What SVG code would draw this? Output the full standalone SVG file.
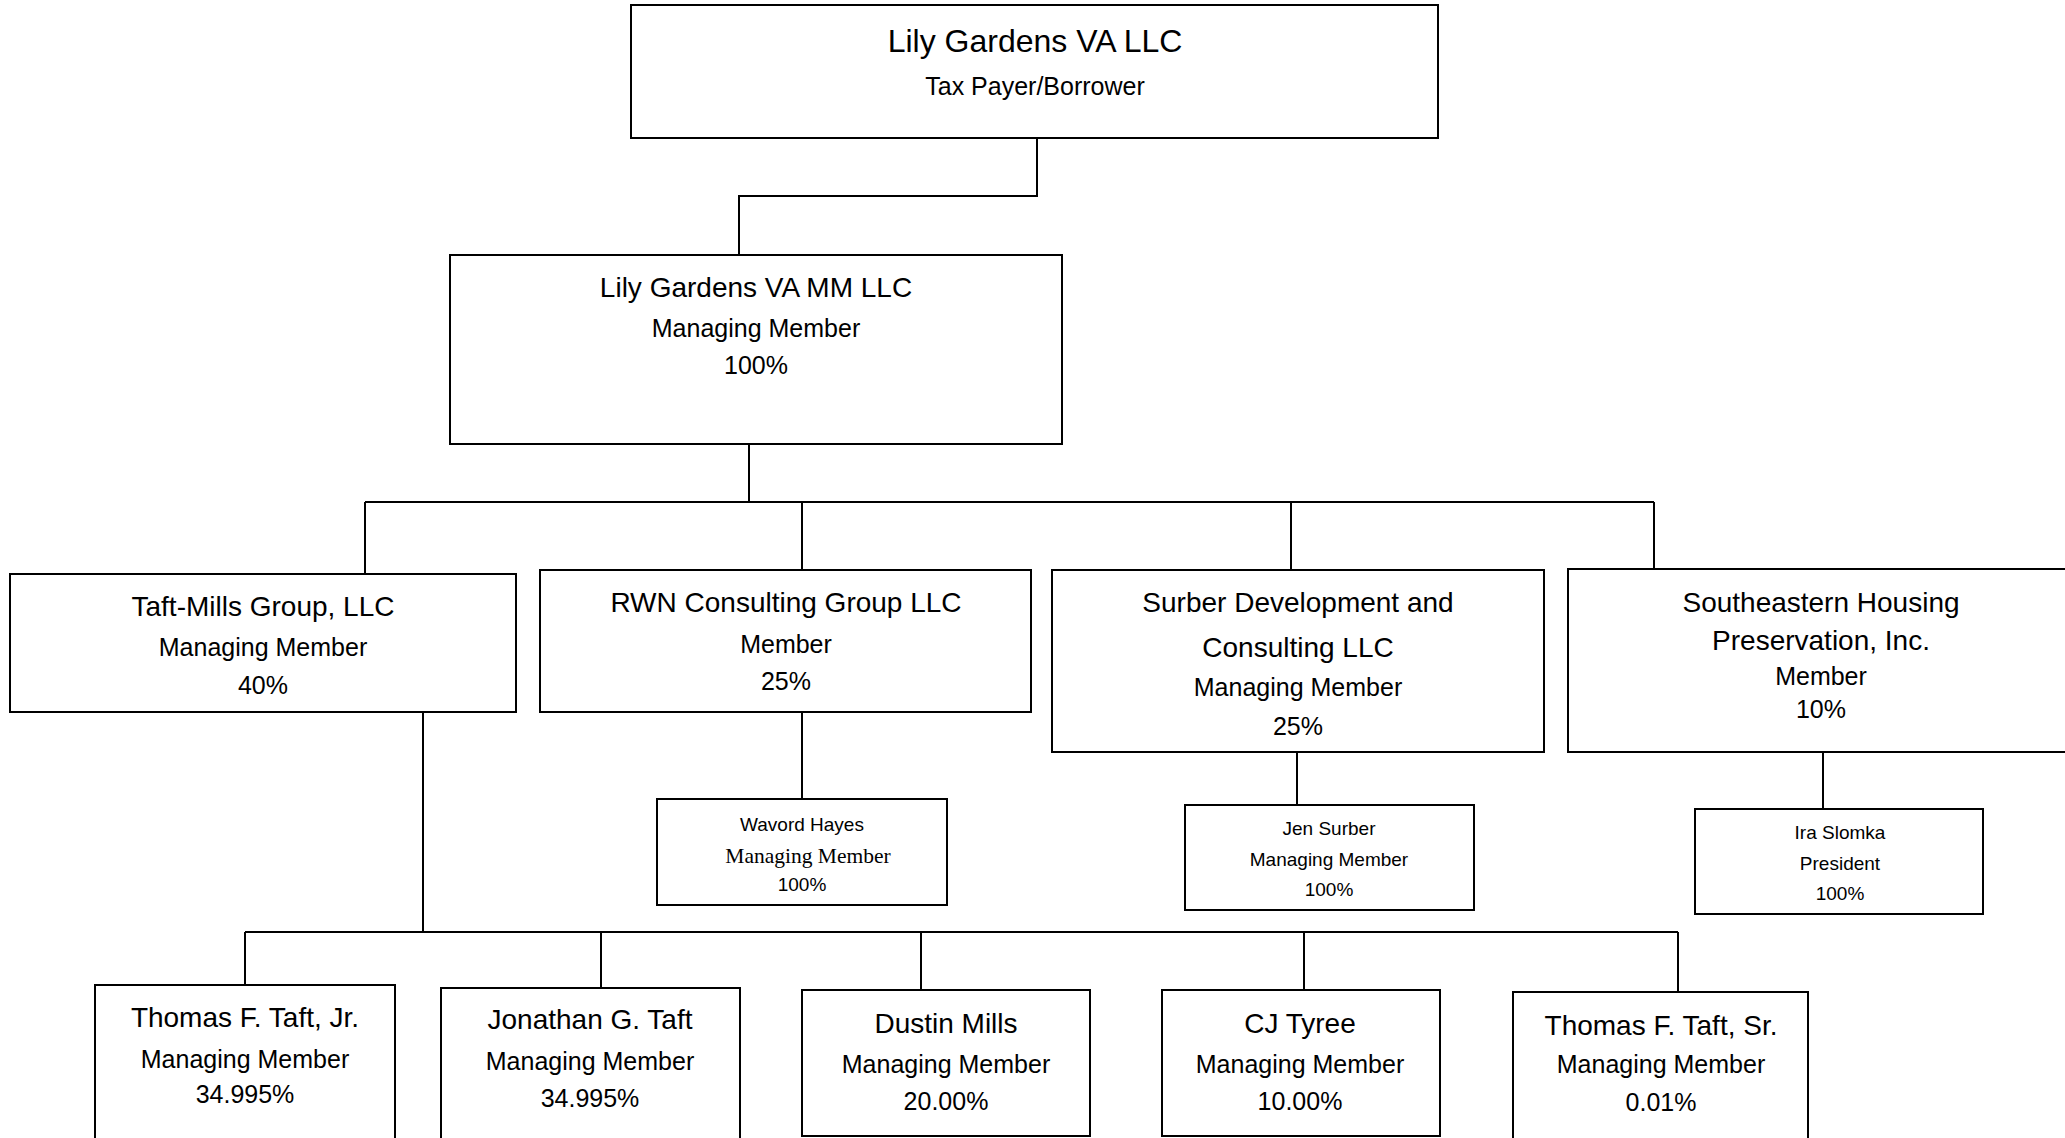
<svg xmlns="http://www.w3.org/2000/svg" width="2065" height="1138" viewBox="0 0 2065 1138">
<style>
.box{fill:#fff;stroke:#000;stroke-width:2}
.ln{fill:none;stroke:#000;stroke-width:2}
text{font-family:"Liberation Sans",Arial,sans-serif;fill:#000;text-anchor:middle}
.t1{font-size:32px}
.t{font-size:28px}
.s{font-size:25px}
.x{font-size:19px}
.xs{font-family:"Liberation Serif","Times New Roman",serif;font-size:21.5px}
</style>
<rect width="2065" height="1138" fill="#fff"/>
<g id="connectors">
<path class="ln" d="M1037 138V196H739V255"/>
<path class="ln" d="M749 444V502M365 502H1654M365 502V574M802 502V570M1291 502V570M1654 502V569"/>
<path class="ln" d="M802 712V799"/>
<path class="ln" d="M1297 752V805"/>
<path class="ln" d="M1823 752V809"/>
<path class="ln" d="M423 712V932M245 932H1678M245 932V985M601 932V988M921 932V990M1304 932V990M1678 932V992"/>
</g>
<g id="n-lily-gardens-va-llc">
<rect class="box" x="631" y="5" width="807" height="133"/>
<text class="t1" x="1035" y="52">Lily Gardens VA LLC</text>
<text class="s" x="1035" y="95">Tax Payer/Borrower</text>
</g>
<g id="n-lily-gardens-va-mm-llc">
<rect class="box" x="450" y="255" width="612" height="189"/>
<text class="t" x="756" y="297">Lily Gardens VA MM LLC</text>
<text class="s" x="756" y="337">Managing Member</text>
<text class="s" x="756" y="374">100%</text>
</g>
<g id="n-taft-mills">
<rect class="box" x="10" y="574" width="506" height="138"/>
<text class="t" x="263" y="616">Taft-Mills Group, LLC</text>
<text class="s" x="263" y="656">Managing Member</text>
<text class="s" x="263" y="694">40%</text>
</g>
<g id="n-rwn">
<rect class="box" x="540" y="570" width="491" height="142"/>
<text class="t" x="786" y="612">RWN Consulting Group LLC</text>
<text class="s" x="786" y="653">Member</text>
<text class="s" x="786" y="690">25%</text>
</g>
<g id="n-surber">
<rect class="box" x="1052" y="570" width="492" height="182"/>
<text class="t" x="1298" y="612">Surber Development and</text>
<text class="t" x="1298" y="657">Consulting LLC</text>
<text class="s" x="1298" y="696">Managing Member</text>
<text class="s" x="1298" y="735">25%</text>
</g>
<g id="n-southeastern">
<rect class="box" x="1568" y="569" width="510" height="183"/>
<text class="t" x="1821" y="612">Southeastern Housing</text>
<text class="t" x="1821" y="650">Preservation, Inc.</text>
<text class="s" x="1821" y="685">Member</text>
<text class="s" x="1821" y="718">10%</text>
</g>
<g id="n-wavord-hayes">
<rect class="box" x="657" y="799" width="290" height="106"/>
<text class="x" x="802" y="831">Wavord Hayes</text>
<text class="xs" x="808" y="863">Managing Member</text>
<text class="x" x="802" y="891">100%</text>
</g>
<g id="n-jen-surber">
<rect class="box" x="1185" y="805" width="289" height="105"/>
<text class="x" x="1329" y="835">Jen Surber</text>
<text class="x" x="1329" y="866">Managing Member</text>
<text class="x" x="1329" y="896">100%</text>
</g>
<g id="n-ira-slomka">
<rect class="box" x="1695" y="809" width="288" height="105"/>
<text class="x" x="1840" y="839">Ira Slomka</text>
<text class="x" x="1840" y="870">President</text>
<text class="x" x="1840" y="900">100%</text>
</g>
<g id="n-thomas-jr">
<rect class="box" x="95" y="985" width="300" height="170"/>
<text class="t" x="245" y="1027">Thomas F. Taft, Jr.</text>
<text class="s" x="245" y="1068">Managing Member</text>
<text class="s" x="245" y="1103">34.995%</text>
</g>
<g id="n-jonathan">
<rect class="box" x="441" y="988" width="299" height="170"/>
<text class="t" x="590" y="1029">Jonathan G. Taft</text>
<text class="s" x="590" y="1070">Managing Member</text>
<text class="s" x="590" y="1107">34.995%</text>
</g>
<g id="n-dustin">
<rect class="box" x="802" y="990" width="288" height="146"/>
<text class="t" x="946" y="1033">Dustin Mills</text>
<text class="s" x="946" y="1073">Managing Member</text>
<text class="s" x="946" y="1110">20.00%</text>
</g>
<g id="n-cj-tyree">
<rect class="box" x="1162" y="990" width="278" height="146"/>
<text class="t" x="1300" y="1033">CJ Tyree</text>
<text class="s" x="1300" y="1073">Managing Member</text>
<text class="s" x="1300" y="1110">10.00%</text>
</g>
<g id="n-thomas-sr">
<rect class="box" x="1513" y="992" width="295" height="170"/>
<text class="t" x="1661" y="1035">Thomas F. Taft, Sr.</text>
<text class="s" x="1661" y="1073">Managing Member</text>
<text class="s" x="1661" y="1111">0.01%</text>
</g>
</svg>
